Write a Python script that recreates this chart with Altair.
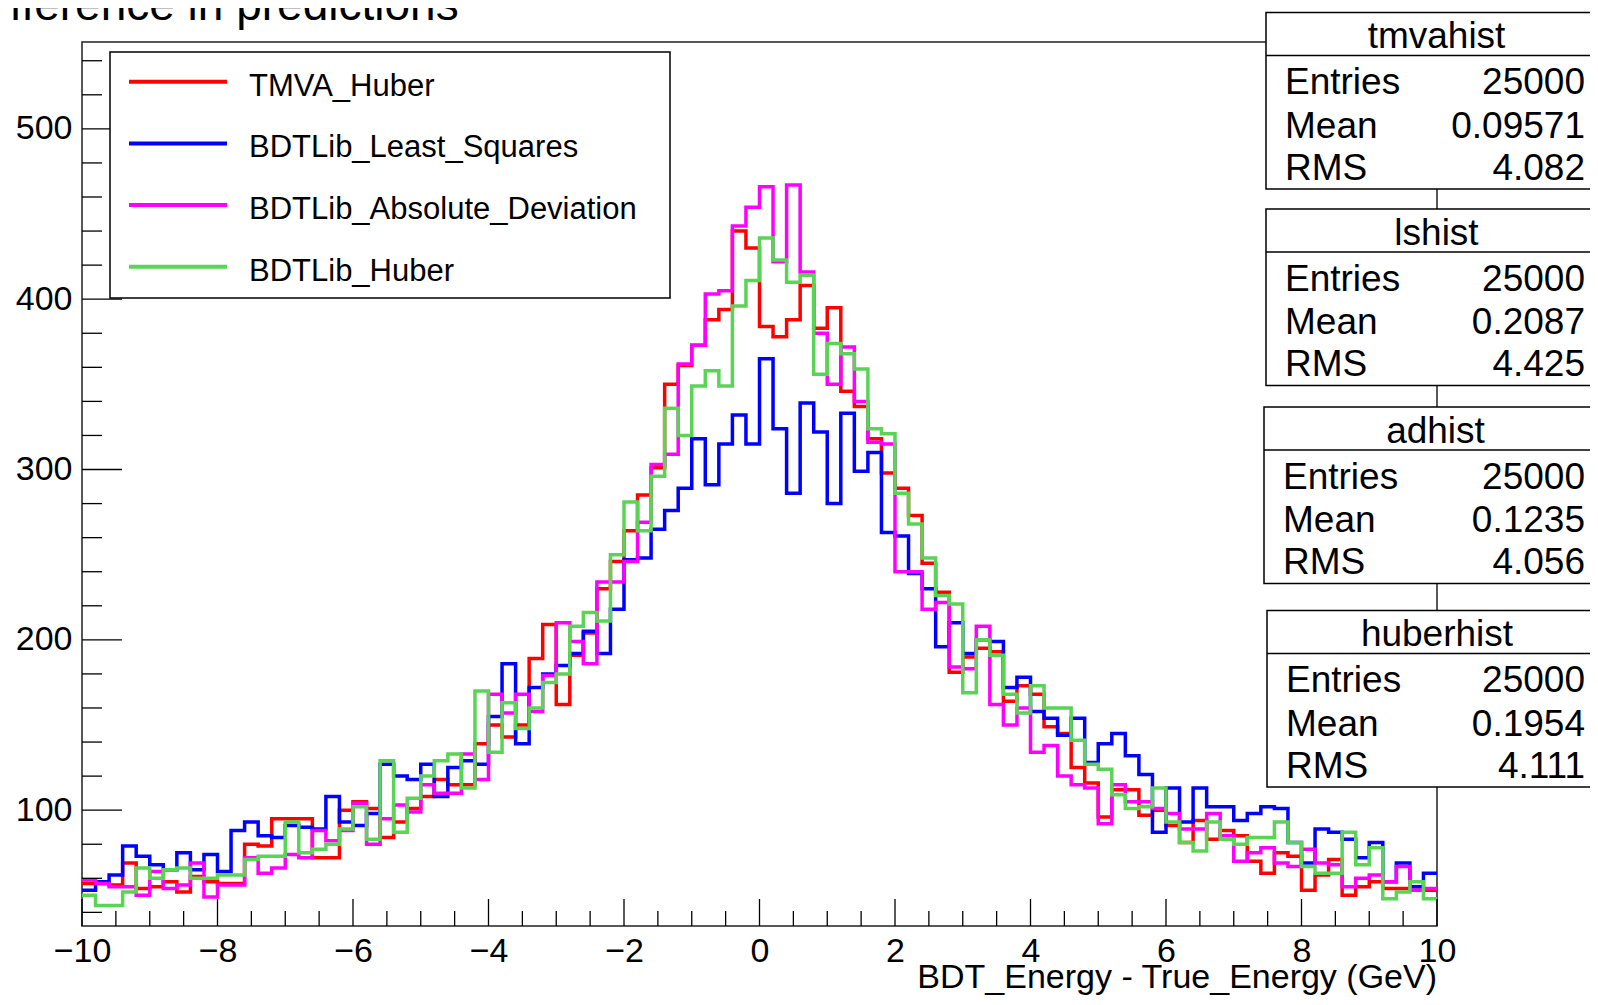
import numpy as np
import pandas as pd
import altair as alt

# ---------------- data ----------------
X_MIN, X_MAX, N_BINS = -10.0, 10.0, 100
Y_MIN, Y_MAX = 32.0, 551.0

series_names = ["TMVA_Huber", "BDTLib_Least_Squares", "BDTLib_Absolute_Deviation", "BDTLib_Huber"]
series_colors = ["#ff0000", "#0000ff", "#ff00ff", "#59d454"]

tmva_huber = [
    57, 57, 56, 69, 54, 55, 58, 52, 61, 58, 57, 57, 80, 79, 95, 95, 95, 72, 72, 100,
    105, 101, 84, 93, 101, 108, 118, 115, 115, 139, 150, 143, 150, 189, 209, 162, 191, 204, 230, 246,
    264, 285, 301, 350, 361, 373, 388, 394, 440, 430, 384, 378, 388, 408, 383, 395, 346, 337, 318,
    298, 289, 273, 245, 228, 181, 190, 195, 193, 164, 173, 168, 149, 145, 125, 116, 96, 112, 112, 97, 100,
    91, 81, 94, 83, 88, 85, 70, 63, 75, 73, 53, 62, 71, 50, 55, 58, 54, 54, 53, 53]

bdtlib_least_squares = [
    53, 58, 62, 79, 73, 68, 65, 75, 65, 74, 64, 88, 93, 85, 84, 91, 90, 89, 108, 93,
    91, 98, 127, 120, 118, 127, 108, 125, 129, 127, 155, 186, 139, 172, 180, 185, 192, 205, 192, 218,
    247, 248, 265, 276, 289, 318, 291, 315, 332, 315, 365, 324, 286, 339, 322, 280, 333, 299, 310,
    263, 261, 239, 230, 196, 210, 192, 200, 199, 172, 178, 158, 154, 144, 154, 128, 139, 145, 132, 121, 87,
    113, 93, 113, 102, 102, 94, 98, 102, 101, 81, 69, 89, 87, 83, 72, 81, 58, 69, 55, 63]

bdtlib_absolute_deviation = [
    59, 57, 55, 55, 50, 64, 54, 56, 69, 49, 56, 56, 72, 63, 66, 74, 72, 88, 82, 88,
    104, 80, 95, 103, 99, 115, 110, 110, 133, 118, 168, 157, 168, 158, 179, 210, 199, 186, 234, 234,
    246, 269, 303, 309, 362, 373, 403, 405, 443, 454, 466, 422, 467, 416, 380, 350, 372, 340, 316,
    315, 240, 240, 218, 222, 184, 183, 208, 162, 150, 160, 134, 138, 120, 115, 113, 92, 115, 105, 105, 101,
    98, 89, 89, 98, 85, 70, 75, 78, 69, 67, 77, 69, 68, 55, 60, 62, 58, 67, 53, 54]

bdtlib_huber = [
    50, 44, 44, 52, 66, 60, 65, 66, 60, 60, 62, 62, 71, 73, 73, 93, 75, 77, 80, 89,
    102, 83, 129, 87, 107, 120, 129, 133, 113, 170, 134, 163, 148, 160, 175, 180, 208, 216, 211, 250,
    281, 264, 296, 336, 320, 349, 358, 349, 396, 411, 436, 423, 410, 414, 356, 374, 368, 359, 324,
    321, 286, 268, 248, 226, 221, 169, 200, 191, 168, 157, 173, 160, 160, 141, 127, 124, 109, 101, 102, 113,
    93, 81, 76, 93, 83, 80, 84, 84, 93, 81, 67, 63, 63, 87, 68, 78, 48, 52, 58, 48]

series_values = [tmva_huber, bdtlib_least_squares, bdtlib_absolute_deviation, bdtlib_huber]

x_major_ticks = [-10, -8, -6, -4, -2, 0, 2, 4, 6, 8, 10]
x_minor_step = 0.5
y_major_ticks = [100, 200, 300, 400, 500]
y_minor_step = 20

stat_titles = ["tmvahist", "lshist", "adhist", "huberhist"]
stat_labels = ["Entries", "Mean", "RMS"]
stat_entries = ["25000", "25000", "25000", "25000"]
stat_means = ["0.09571", "0.2087", "0.1235", "0.1954"]
stat_rms = ["4.082", "4.425", "4.056", "4.111"]

title_text = "Difference in predictions"
x_title = "BDT_Energy - True_Energy (GeV)"

# ---------------- layout (pixels) ----------------
W, H = 1355, 884
PAD_L, PAD_T, PAD_R, PAD_B = 74, 34, 153, 70
OX, OY = 8 + PAD_L, 8 + PAD_T          # page position of plot origin
FONT = "Liberation Sans"
INK = "black"


def px(X):
    return X - OX


def py(Y):
    return Y - OY


dummy = pd.DataFrame({"k": [0]})
xscale = alt.Scale(domain=[X_MIN, X_MAX], nice=False, zero=False)
yscale = alt.Scale(domain=[Y_MIN, Y_MAX], nice=False, zero=False)
xaxis = alt.Axis(values=x_major_ticks, ticks=False, tickSize=0, domain=False, grid=False,
                 labelFontSize=34, labelFont=FONT, labelColor=INK, labelPadding=35,
                 labelBaseline="alphabetic", labelFlush=False, labelOverlap=False, title=None)
yaxis = alt.Axis(values=y_major_ticks, ticks=False, tickSize=0, domain=False, grid=False,
                 labelFontSize=34, labelFont=FONT, labelColor=INK, labelPadding=10,
                 labelBaseline="middle", labelAlign="right", labelOverlap=False, title=None)

layers = []

# histogram outlines
edges = np.linspace(X_MIN, X_MAX, N_BINS + 1)
for name, color, vals in zip(series_names, series_colors, series_values):
    df = pd.DataFrame({"x": edges, "count": list(vals) + [vals[-1]], "series": name})
    layers.append(
        alt.Chart(df).mark_line(interpolate="step-after", strokeWidth=3.5, color=color,
                                strokeJoin="miter")
        .encode(x=alt.X("x:Q", scale=xscale, axis=xaxis),
                y=alt.Y("count:Q", scale=yscale, axis=yaxis))
    )

# axis ticks (inside the frame, ROOT style)
x_all = np.round(np.arange(X_MIN, X_MAX + 1e-9, x_minor_step), 3)
x_minor = [v for v in x_all if v not in x_major_ticks]
y_all = np.arange(40, Y_MAX, y_minor_step)
y_minor = [v for v in y_all if v not in y_major_ticks]

for vals, length in [(x_major_ticks, 27), (x_minor, 15)]:
    layers.append(
        alt.Chart(pd.DataFrame({"x": vals})).mark_rule(color=INK, strokeWidth=1.3)
        .encode(x=alt.X("x:Q", scale=xscale, axis=xaxis), y=alt.value(H), y2=alt.value(H - length))
    )
for vals, length in [(y_major_ticks, 40), (y_minor, 20)]:
    layers.append(
        alt.Chart(pd.DataFrame({"count": vals})).mark_rule(color=INK, strokeWidth=1.3)
        .encode(y=alt.Y("count:Q", scale=yscale, axis=yaxis), x=alt.value(0), x2=alt.value(length))
    )


def box(x0, x1, y0, y1):
    return alt.Chart(dummy).mark_rect(fill="white", stroke=INK, strokeWidth=1.5).encode(
        x=alt.value(x0), x2=alt.value(x1), y=alt.value(y0), y2=alt.value(y1))


def hline(x0, x1, y, color=INK, width=1.5):
    return alt.Chart(dummy).mark_rule(color=color, strokeWidth=width).encode(
        x=alt.value(x0), x2=alt.value(x1), y=alt.value(y))


def text(t, x, y, size, align="left"):
    return alt.Chart(dummy).mark_text(text=t, align=align, baseline="alphabetic", fontSize=size,
                                      font=FONT, color=INK).encode(x=alt.value(x), y=alt.value(y))


# legend
LEG = dict(x0=110, x1=670, y0=52, y1=298, line_x0=129, line_x1=227, text_x=249, row0=81.7, drow=61.7)
layers.append(box(px(LEG["x0"]), px(LEG["x1"]), py(LEG["y0"]), py(LEG["y1"])))
for i, (name, color) in enumerate(zip(series_names, series_colors)):
    ly = LEG["row0"] + i * LEG["drow"]
    layers.append(hline(px(LEG["line_x0"]), px(LEG["line_x1"]), py(ly), color=color, width=4))
    layers.append(text(name, px(LEG["text_x"]), py(ly + 14), 31))

# statistics boxes
box_tops = [12.6, 209.0, 407.0, 610.6]
box_lefts = [1266, 1266, 1264, 1267]
BOX_RIGHT = 1607
for i, (top, left) in enumerate(zip(box_tops, box_lefts)):
    layers.append(box(px(left), px(BOX_RIGHT), py(top), py(top + 176.5)))
    layers.append(hline(px(left), px(BOX_RIGHT), py(top + 43)))
    layers.append(text(stat_titles[i], px((left + BOX_RIGHT) / 2), py(top + 35.5), 37, align="center"))
    row_vals = [stat_entries[i], stat_means[i], stat_rms[i]]
    for j, (lab, val) in enumerate(zip(stat_labels, row_vals)):
        by = top + [81.5, 125.0, 167.0][j]
        layers.append(text(lab, px(left + 19), py(by), 37))
        layers.append(text(val, px(BOX_RIGHT - 22), py(by), 37, align="right"))

# title (cut off at the page corner as in the original) and x-axis title
layers.append(text(title_text, px(-34), py(20), 46))
layers.append(text(x_title, W, py(988), 34, align="right"))

chart = alt.layer(*layers).properties(
    width=W, height=H,
    padding={"left": PAD_L, "top": PAD_T, "right": PAD_R, "bottom": PAD_B},
    autosize=alt.AutoSizeParams(type="none"),
    background="white",
).configure_view(stroke="#222222", strokeWidth=1.5)

chart.save("out.html", embed_options={"renderer": "svg", "actions": False})
